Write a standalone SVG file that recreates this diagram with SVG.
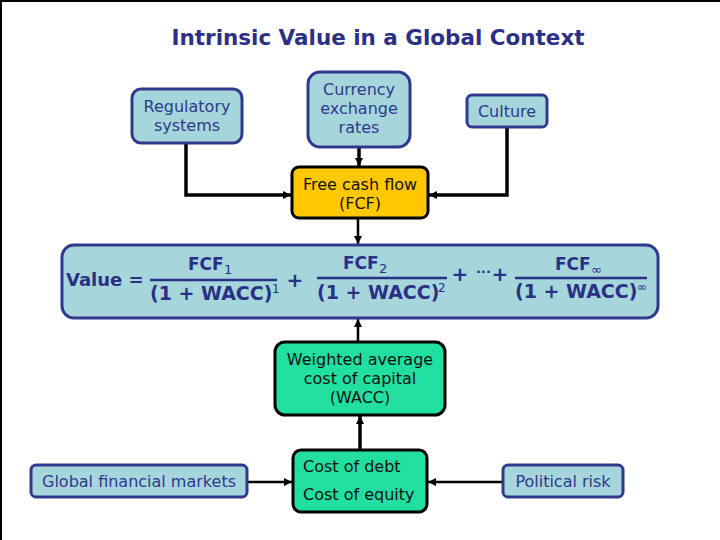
<svg xmlns="http://www.w3.org/2000/svg" width="720" height="540" viewBox="0 0 720 540">
<defs>
<style>
.blue{fill:#a6d5dc;stroke:#2f3a8f;stroke-width:3}
.yel{fill:#ffc800;stroke:#000;stroke-width:3}
.grn{fill:#20dfa0;stroke:#000;stroke-width:3}
.t{font-family:"DejaVu Sans",Verdana,sans-serif;font-size:16px}
.nv{fill:#2e3a8a}
.bk{fill:#111}
.c{text-anchor:middle}
.f{font-family:"DejaVu Sans",Verdana,sans-serif;font-weight:bold;fill:#2b3085}
.s{font-family:"DejaVu Sans",Verdana,sans-serif;fill:#2b3085}
.ln{fill:none;stroke:#000;stroke-width:3.5}
.ln2{fill:none;stroke:#000;stroke-width:2.5}
</style>
<marker id="ah" viewBox="0 0 10 10" refX="10" refY="5" markerWidth="8" markerHeight="8" markerUnits="userSpaceOnUse" orient="auto">
<path d="M0,0 L10,5 L0,10 z" fill="#000"/>
</marker>
</defs>
<rect width="720" height="540" fill="#fff"/>
<path d="M1,540 V1 H720" fill="none" stroke="#000" stroke-width="2"/>
<text x="378" y="45" class="f c" font-size="21" textLength="413" lengthAdjust="spacingAndGlyphs">Intrinsic Value in a Global Context</text>

<g id="connectors">
<path class="ln" d="M186,143 V195 H291" marker-end="url(#ah)"/>
<path class="ln" d="M359,147 V166" marker-end="url(#ah)"/>
<path class="ln" d="M507,127 V195 H429" marker-end="url(#ah)"/>
<path class="ln2" d="M358,218 V244" marker-end="url(#ah)"/>
<path class="ln2" d="M358,342 V319" marker-end="url(#ah)"/>
<path class="ln" d="M360,450 V416" marker-end="url(#ah)"/>
<path class="ln2" d="M247,482 H292" marker-end="url(#ah)"/>
<path class="ln2" d="M503,482 H428" marker-end="url(#ah)"/>
</g>

<g id="regulatory">
<rect class="blue" x="132" y="89" width="110" height="54" rx="9"/>
<text class="t nv c" x="187" y="111.5">Regulatory</text>
<text class="t nv c" x="187" y="130.5">systems</text>
</g>
<g id="currency">
<rect class="blue" x="308" y="72" width="102" height="75" rx="12"/>
<text class="t nv c" x="359" y="94.5">Currency</text>
<text class="t nv c" x="359" y="113.5">exchange</text>
<text class="t nv c" x="359" y="133">rates</text>
</g>
<g id="culture">
<rect class="blue" x="467" y="95" width="80" height="32" rx="5"/>
<text class="t nv c" x="507" y="116.5">Culture</text>
</g>
<g id="fcf">
<rect class="yel" x="292" y="167" width="136" height="51" rx="7"/>
<text class="t bk c" x="360" y="189.5">Free cash flow</text>
<text class="t bk c" x="360" y="208.5">(FCF)</text>
</g>

<g id="value">
<rect class="blue" x="62" y="245" width="596" height="73" rx="12"/>
<text class="f" x="66" y="286" font-size="18">Value =</text>
<text class="f" x="188" y="270" font-size="17">FCF</text>
<text class="s" x="224" y="274" font-size="13">1</text>
<line x1="150" y1="280" x2="277" y2="280" stroke="#2b3085" stroke-width="2.5"/>
<text class="f" x="150" y="300" font-size="19">(1 + WACC)</text>
<text class="s" x="272" y="293" font-size="12">1</text>
<text class="f c" x="295" y="287" font-size="20">+</text>

<text class="f" x="343" y="269" font-size="17">FCF</text>
<text class="s" x="379" y="273" font-size="13">2</text>
<line x1="317" y1="278" x2="447" y2="278" stroke="#2b3085" stroke-width="2.5"/>
<text class="f" x="317" y="299" font-size="19">(1 + WACC)</text>
<text class="s" x="438" y="292" font-size="12">2</text>
<text class="f c" x="460" y="281" font-size="20">+</text>
<text class="f" x="476" y="276" font-size="13">···</text>
<text class="f c" x="500" y="281" font-size="20">+</text>

<text class="f" x="555" y="270" font-size="17">FCF</text>
<text class="s" x="591" y="274" font-size="13">∞</text>
<line x1="515" y1="278" x2="647" y2="278" stroke="#2b3085" stroke-width="2.5"/>
<text class="f" x="515" y="298" font-size="19">(1 + WACC)</text>
<text class="s" x="637" y="291" font-size="12">∞</text>
</g>

<g id="wacc">
<rect class="grn" x="275" y="342" width="170" height="73" rx="10"/>
<text class="t bk c" x="360" y="364.5">Weighted average</text>
<text class="t bk c" x="360" y="383.5">cost of capital</text>
<text class="t bk c" x="360" y="402.5">(WACC)</text>
</g>
<g id="costs">
<rect class="grn" x="293" y="450" width="134" height="62" rx="8"/>
<text class="t bk" x="303" y="471.5">Cost of debt</text>
<text class="t bk" x="303" y="499.5">Cost of equity</text>
</g>
<g id="global">
<rect class="blue" x="31" y="465" width="216" height="32" rx="5"/>
<text class="t nv c" x="139" y="486.5">Global financial markets</text>
</g>
<g id="political">
<rect class="blue" x="503" y="465" width="120" height="32" rx="5"/>
<text class="t nv c" x="563" y="486.5">Political risk</text>
</g>
</svg>
